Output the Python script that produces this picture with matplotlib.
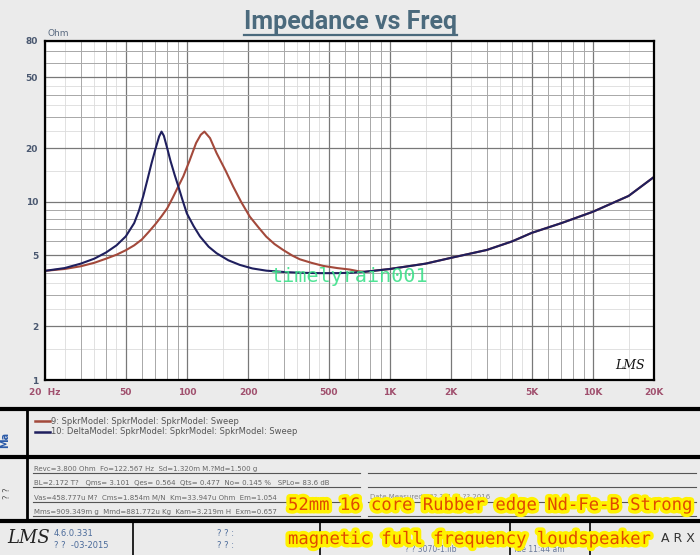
import matplotlib
matplotlib.use('Agg')
import matplotlib.pyplot as plt
import matplotlib.patheffects as pe
from matplotlib import font_manager
from matplotlib.lines import Line2D
from matplotlib.ticker import FixedLocator, FixedFormatter, NullFormatter

# --- data (Hz, Ohm) ---
# both curves run together above ~700 Hz
freq_tail = [750, 1000, 1500, 2000, 3000, 4000, 5000, 7000, 10000, 15000, 20000]
z_tail = [4.05, 4.2, 4.5, 4.85, 5.37, 6.0, 6.7, 7.6, 8.8, 10.8, 13.8]

# 9: SpkrModel (red)
freq_spkr = [20, 25, 30, 35, 40, 45, 50, 55, 60, 65, 70, 75, 80, 85, 90, 96, 103,
             111, 117, 122, 130, 140, 155, 169, 185, 204, 225, 246, 270, 298,
             330, 360, 410, 470, 550, 634, 700]
z_spkr = [4.1, 4.2, 4.35, 4.55, 4.8, 5.05, 5.35, 5.7, 6.15, 6.8, 7.5, 8.3, 9.2,
          10.5, 12.0, 13.9, 17.0, 21.4, 23.8, 24.8, 22.8, 18.8, 15.0, 12.2, 10.0,
          8.27, 7.2, 6.38, 5.8, 5.37, 5.0, 4.76, 4.55, 4.37, 4.25, 4.17, 4.08]

# 10: DeltaModel (blue)
freq_delta = [20, 25, 30, 35, 40, 45, 50, 55, 58, 61, 64, 67, 70, 73, 75, 77, 80,
              83, 87, 91, 95, 100, 108, 116, 128, 140, 160, 182, 210, 246, 300,
              360, 450, 550, 650]
z_delta = [4.1, 4.25, 4.5, 4.8, 5.2, 5.7, 6.4, 7.6, 8.9, 10.8, 13.4, 16.5, 19.8,
           23.3, 24.8, 23.5, 20.0, 17.0, 14.2, 12.1, 10.3, 8.6, 7.3, 6.4, 5.6,
           5.15, 4.7, 4.43, 4.23, 4.11, 4.04, 4.0, 3.98, 3.98, 4.0]

x_ticks = [20, 50, 100, 200, 500, 1000, 2000, 5000, 10000, 20000]
x_labels = ['20  Hz', '50', '100', '200', '500', '1K', '2K', '5K', '10K', '20K']
y_ticks = [1, 2, 5, 10, 20, 50, 80]
y_labels = ['1', '2', '5', '10', '20', '50', '80']

legend_names = ['9: SpkrModel: SpkrModel: SpkrModel: Sweep',
                '10: DeltaModel: SpkrModel: SpkrModel: SpkrModel: Sweep']
param_lines = [
    'Revc=3.800 Ohm  Fo=122.567 Hz  Sd=1.320m M.?Md=1.500 g',
    'BL=2.172 T?   Qms= 3.101  Qes= 0.564  Qts= 0.477  No= 0.145 %   SPLo= 83.6 dB',
    'Vas=458.777u M?  Cms=1.854m M/N  Km=33.947u Ohm  Em=1.054',
    'Mms=909.349m g  Mmd=881.772u Kg  Kam=3.219m H  Exm=0.657',
]

W, H = 700, 555
fonts = {f.name for f in font_manager.fontManager.ttflist}
title_font = 'Roboto' if 'Roboto' in fonts else 'DejaVu Sans'
if 'Noto Sans Mono CJK JP' in fonts:
    cap_font, cap_size = 'Noto Sans Mono CJK JP', 15
else:
    cap_font, cap_size = 'DejaVu Sans Mono', 12.4


def fx(x):
    return x / W


def fy(y):
    return 1 - y / H


def hline(y, x0, x1, lw, color='black'):
    fig.add_artist(Line2D([fx(x0), fx(x1)], [fy(y), fy(y)], lw=lw, color=color))


def vline(x, y0, y1, lw, color='black'):
    fig.add_artist(Line2D([fx(x), fx(x)], [fy(y0), fy(y1)], lw=lw, color=color))


fig = plt.figure(figsize=(7, 5.55), dpi=100, facecolor='#ebebeb')
ax = fig.add_axes([fx(45), fy(380), (654 - 45) / W, (380 - 41) / H])
ax.set_facecolor('white')
ax.set_xscale('log')
ax.set_yscale('log')
ax.set_xlim(20, 20000)
ax.set_ylim(1, 80)

x_minor = [d * m for d in (10, 100, 1000, 10000) for m in range(1, 10)
           if 20 < d * m < 20000 and d * m not in x_ticks]
y_minor = [d * m for d in (1, 10) for m in range(1, 10)
           if 1 < d * m < 80 and d * m not in y_ticks]
ax.xaxis.set_major_locator(FixedLocator(x_ticks))
ax.xaxis.set_major_formatter(FixedFormatter(x_labels))
ax.xaxis.set_minor_locator(FixedLocator(x_minor))
ax.xaxis.set_minor_formatter(NullFormatter())
ax.yaxis.set_major_locator(FixedLocator(y_ticks))
ax.yaxis.set_major_formatter(FixedFormatter(y_labels))
ax.yaxis.set_minor_locator(FixedLocator(y_minor))
ax.yaxis.set_minor_formatter(NullFormatter())
ax.tick_params(which='both', length=0)
ax.tick_params(axis='x', pad=6, labelsize=6.5, labelcolor='#a0506e')
ax.tick_params(axis='y', pad=5, labelsize=6.5, labelcolor='#4a5870')
for lab in ax.get_xticklabels() + ax.get_yticklabels():
    lab.set_fontweight('bold')

# light half-step lines, then the integer grid
for d in (10, 100, 1000, 10000):
    for m in (1.5, 2.5, 3.5, 4.5):
        if 20 < d * m < 20000:
            ax.axvline(d * m, color='#dcdcdc', lw=0.6, zorder=0.5)
for d in (1, 10):
    for m in (1.5, 2.5, 3.5, 4.5):
        if 1 < d * m < 80:
            ax.axhline(d * m, color='#dcdcdc', lw=0.6, zorder=0.5)
ax.grid(which='minor', color='#a8a8a8', lw=0.7)
ax.grid(which='major', color='#787878', lw=0.9)
ax.set_axisbelow(True)
for s in ax.spines.values():
    s.set_linewidth(1.6)
    s.set_color('black')

ax.plot(freq_spkr + freq_tail, z_spkr + z_tail, color='#a3493b', lw=1.5)
ax.plot(freq_delta + freq_tail, z_delta + z_tail, color='#1f1f5e', lw=1.5)

ax.text(0.985, 0.025, 'LMS', transform=ax.transAxes, ha='right', va='bottom',
        fontsize=9, style='italic', family='DejaVu Serif', color='#111111')

# title with underline
title = fig.text(0.5, fy(22), 'Impedance vs Freq', ha='center', va='center',
                 fontsize=18, fontweight='bold', color='#4b6a7d', family=title_font)
fig.text(fx(48), fy(33), 'Ohm', fontsize=6.5, color='#5a6a80', va='center')

# watermark
fig.text(fx(271), fy(276), 'timelyrain001', fontsize=14.5, family='DejaVu Sans Mono',
         color='#3de08a', va='center', alpha=0.9)

# --- lower panels ---
hline(408.5, 0, W, 3)
hline(456.5, 0, W, 3)
hline(521, 0, W, 3)
vline(27, 408, 521, 2)
for x in (133, 320, 510, 590):
    vline(x, 521, H, 1.2)

fig.text(fx(5), fy(440), 'Ma', rotation=90, fontsize=7, color='#2a5aa8',
         fontweight='bold', va='center', ha='center')
fig.text(fx(7), fy(493), '? ?', rotation=90, fontsize=6, color='#555555',
         va='center', ha='center')

leg_colors = ['#a3493b', '#1f1f5e']
for i, (name, col) in enumerate(zip(legend_names, leg_colors)):
    y = 421 + i * 11
    fig.add_artist(Line2D([fx(35), fx(50)], [fy(y), fy(y)], lw=1.8, color=col))
    fig.text(fx(51), fy(y), name, fontsize=6, color='#555555', va='center')

for i, line in enumerate(param_lines):
    y = 469 + i * 14.3
    fig.text(fx(34), fy(y), line, fontsize=5, color='#666666', va='center')
    hline(y + 4, 33, 360, 0.8, '#555555')
    hline(y + 4, 368, 696, 0.8, '#555555')
fig.text(fx(370), fy(497), 'Date Measured:  ?? ??? ?? ?? 2016', fontsize=5,
         color='#888888', va='center')

fig.text(fx(7), fy(538), 'LMS', fontsize=13, style='italic', family='DejaVu Serif',
         color='#222222', va='center')
fig.text(fx(54), fy(533), '4.6.0.331', fontsize=6, color='#4a6a9a', va='center')
fig.text(fx(54), fy(546), '? ?  -03-2015', fontsize=6, color='#4a6a9a', va='center')
fig.text(fx(217), fy(533), '? ? :', fontsize=6, color='#4a6a9a', va='center')
fig.text(fx(217), fy(546), '? ? :', fontsize=6, color='#4a6a9a', va='center')
fig.text(fx(405), fy(549), '? ? 3070-1.lib', fontsize=5.5, color='#6a7a9a', va='center')
fig.text(fx(513), fy(549), 'Tue 11:44 am', fontsize=5.5, color='#6a7a9a', va='center')
fig.text(fx(695), fy(539), 'A R X', fontsize=9, color='#333333', va='center', ha='right')

# overlay caption
glow = [pe.Stroke(linewidth=5, foreground='#fff200'), pe.Normal()]
fig.text(fx(288), fy(505), '52mm 16 core Rubber edge Nd-Fe-B Strong', fontsize=cap_size,
         family=cap_font, color='#e04a00', va='center', path_effects=glow)
fig.text(fx(288), fy(539), 'magnetic full frequency loudspeaker', fontsize=cap_size,
         family=cap_font, color='#e04a00', va='center', path_effects=glow)

fig.canvas.draw()
bb = title.get_window_extent().transformed(fig.transFigure.inverted())
fig.add_artist(Line2D([bb.x0, bb.x1], [bb.y0 - 0.002, bb.y0 - 0.002], lw=1.6,
                      color='#4b6a7d'))

fig.savefig('out.png', dpi=100, facecolor=fig.get_facecolor())
